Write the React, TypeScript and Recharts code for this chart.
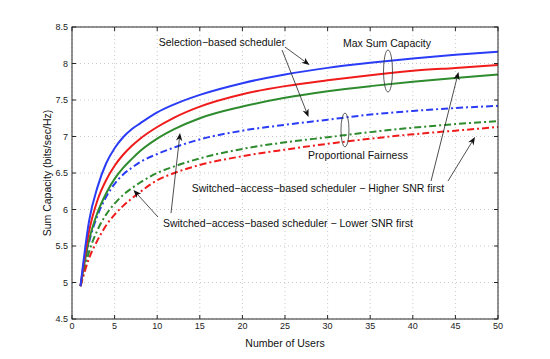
import { LineChart, Line, XAxis, YAxis, CartesianGrid } from 'recharts'

const users = [1, 2, 3, 4, 5, 6, 7, 8, 10, 12, 15, 20, 25, 30, 35, 40, 45, 50]

// max sum capacity (solid)
const selMax = [4.95, 5.84, 6.31, 6.63, 6.84, 6.99, 7.1, 7.18, 7.33, 7.44, 7.57, 7.73, 7.85, 7.94, 8.01, 8.07, 8.12, 8.16]
const highMax = [4.95, 5.7, 6.13, 6.4, 6.6, 6.75, 6.87, 6.97, 7.13, 7.26, 7.41, 7.58, 7.69, 7.77, 7.84, 7.9, 7.94, 7.98]
const lowMax = [4.95, 5.58, 5.96, 6.22, 6.42, 6.57, 6.69, 6.8, 6.97, 7.1, 7.25, 7.41, 7.53, 7.62, 7.69, 7.75, 7.8, 7.85]

// proportional fairness (dash-dot)
const selPF = [4.95, 5.55, 5.92, 6.17, 6.35, 6.48, 6.57, 6.65, 6.76, 6.85, 6.96, 7.08, 7.16, 7.23, 7.3, 7.35, 7.39, 7.42]
const lowPF = [4.95, 5.42, 5.72, 5.93, 6.08, 6.2, 6.29, 6.37, 6.5, 6.59, 6.7, 6.83, 6.92, 6.99, 7.06, 7.12, 7.17, 7.21]
const highPF = [4.95, 5.33, 5.58, 5.78, 5.93, 6.05, 6.15, 6.24, 6.4, 6.5, 6.61, 6.73, 6.82, 6.9, 6.97, 7.03, 7.08, 7.13]

const xTicks = [0, 5, 10, 15, 20, 25, 30, 35, 40, 45, 50]
const yTicks = [4.5, 5, 5.5, 6, 6.5, 7, 7.5, 8, 8.5]

const data = users.map((n, i) => ({
  n,
  selMax: selMax[i],
  highMax: highMax[i],
  lowMax: lowMax[i],
  selPF: selPF[i],
  lowPF: lowPF[i],
  highPF: highPF[i],
}))

const BLUE = '#2a3cf6'
const RED = '#f01c1c'
const GREEN = '#2e8b2e'
const DASHDOT = '7 3 2 3'
const FONT = '"Liberation Sans", Arial, sans-serif'

// plot box, must agree with chart margins below
const W = 550
const H = 359
const LEFT = 72
const TOP = 27
const PW = 426
const PH = 292
const px = (x: number) => LEFT + (x / 50) * PW
const py = (y: number) => TOP + ((8.5 - y) / 4) * PH

// annotation arrows, in data units: [fromX, fromY, toX, toY]
const arrows: [number, number, number, number][] = [
  [25.0, 8.226, 27.88, 7.98],
  [24.65, 8.185, 27.76, 7.267],
  [11.62, 5.95, 12.68, 7.048],
  [10.09, 5.897, 7.22, 6.267],
  [42.14, 6.39, 45.36, 7.884],
  [44.13, 6.39, 47.3, 6.993],
]

const notes = [
  { text: 'Selection\u2212based scheduler', x: 17.6, y: 8.295 },
  { text: 'Max Sum Capacity', x: 36.97, y: 8.28 },
  { text: 'Proportional Fairness', x: 33.57, y: 6.747 },
  { text: 'Switched\u2212access\u2212based scheduler \u2212 Higher SNR first', x: 28.87, y: 6.295 },
  { text: 'Switched\u2212access\u2212based scheduler \u2212 Lower SNR first', x: 25.35, y: 5.815 },
]

function Arrow({ a }: { a: [number, number, number, number] }) {
  const x1 = px(a[0])
  const y1 = py(a[1])
  const x2 = px(a[2])
  const y2 = py(a[3])
  const ang = Math.atan2(y2 - y1, x2 - x1)
  const len = 8
  const hw = 3.2
  const bx = x2 - len * Math.cos(ang)
  const by = y2 - len * Math.sin(ang)
  const nx = -Math.sin(ang)
  const ny = Math.cos(ang)
  const notchX = x2 - len * 0.7 * Math.cos(ang)
  const notchY = y2 - len * 0.7 * Math.sin(ang)
  const pts = [
    `${x2},${y2}`,
    `${bx + nx * hw},${by + ny * hw}`,
    `${notchX},${notchY}`,
    `${bx - nx * hw},${by - ny * hw}`,
  ].join(' ')
  return (
    <g>
      <line x1={x1} y1={y1} x2={notchX} y2={notchY} stroke="#222" strokeWidth={0.8} />
      <polygon points={pts} fill="#111" />
    </g>
  )
}

function Overlay() {
  return (
    <svg
      width={W}
      height={H}
      style={{ position: 'absolute', left: 0, top: 0, pointerEvents: 'none' }}
      fontFamily={FONT}
    >
      {/* inward ticks on all four sides */}
      {xTicks.map((t) => (
        <g key={'xt' + t}>
          <line x1={px(t)} x2={px(t)} y1={TOP + PH} y2={TOP + PH - 4} stroke="#262626" />
          <line x1={px(t)} x2={px(t)} y1={TOP} y2={TOP + 4} stroke="#262626" />
        </g>
      ))}
      {yTicks.map((t) => (
        <g key={'yt' + t}>
          <line x1={LEFT} x2={LEFT + 4} y1={py(t)} y2={py(t)} stroke="#262626" />
          <line x1={LEFT + PW} x2={LEFT + PW - 4} y1={py(t)} y2={py(t)} stroke="#262626" />
        </g>
      ))}
      <rect x={LEFT} y={TOP} width={PW} height={PH} fill="none" stroke="#262626" strokeWidth={1} />

      {/* ellipses grouping the curves */}
      <ellipse cx={px(37.09)} cy={py(7.897)} rx={4.5} ry={21} fill="none" stroke="#333" strokeWidth={0.8} />
      <ellipse cx={px(32.04)} cy={py(7.089)} rx={4} ry={17} fill="none" stroke="#333" strokeWidth={0.8} />

      {arrows.map((a, i) => (
        <Arrow key={i} a={a} />
      ))}

      {notes.map((n) => (
        <text
          key={n.text}
          x={px(n.x)}
          y={py(n.y)}
          textAnchor="middle"
          dominantBaseline="central"
          fontSize={10.5}
          fill="#111"
        >
          {n.text}
        </text>
      ))}

      <text x={LEFT + PW / 2} y={343} textAnchor="middle" dominantBaseline="central" fontSize={10.5} fill="#111">
        Number of Users
      </text>
      <text
        x={47}
        y={TOP + PH / 2}
        textAnchor="middle"
        dominantBaseline="central"
        fontSize={10.5}
        fill="#111"
        transform={`rotate(-90 47 ${TOP + PH / 2})`}
      >
        Sum Capacity (bits/sec/Hz)
      </text>
    </svg>
  )
}

export default function App() {
  const tick = { fontSize: 9, fill: '#222', fontFamily: FONT }
  return (
    <div style={{ position: 'absolute', left: 0, top: 0, width: W, height: H, background: '#fff' }}>
      <LineChart width={W} height={H} data={data} margin={{ top: TOP, right: W - LEFT - PW, bottom: 10, left: 0 }}>
        <CartesianGrid stroke="#bdbdbd" strokeDasharray="1 3" strokeWidth={0.8} />
        <XAxis
          dataKey="n"
          type="number"
          domain={[0, 50]}
          ticks={xTicks}
          tick={tick}
          tickLine={false}
          axisLine={false}
          tickSize={0}
          tickMargin={4}
          height={H - 10 - TOP - PH}
        />
        <YAxis
          type="number"
          domain={[4.5, 8.5]}
          ticks={yTicks}
          tick={tick}
          tickLine={false}
          axisLine={false}
          tickSize={0}
          tickMargin={4}
          width={LEFT}
          allowDataOverflow
        />
        <Line type="monotone" dataKey="selPF" stroke={BLUE} strokeWidth={2} strokeDasharray={DASHDOT} dot={false} isAnimationActive={false} />
        <Line type="monotone" dataKey="lowPF" stroke={GREEN} strokeWidth={2} strokeDasharray={DASHDOT} dot={false} isAnimationActive={false} />
        <Line type="monotone" dataKey="highPF" stroke={RED} strokeWidth={2} strokeDasharray={DASHDOT} dot={false} isAnimationActive={false} />
        <Line type="monotone" dataKey="lowMax" stroke={GREEN} strokeWidth={2} dot={false} isAnimationActive={false} />
        <Line type="monotone" dataKey="highMax" stroke={RED} strokeWidth={2} dot={false} isAnimationActive={false} />
        <Line type="monotone" dataKey="selMax" stroke={BLUE} strokeWidth={2} dot={false} isAnimationActive={false} />
      </LineChart>
      <Overlay />
    </div>
  )
}
